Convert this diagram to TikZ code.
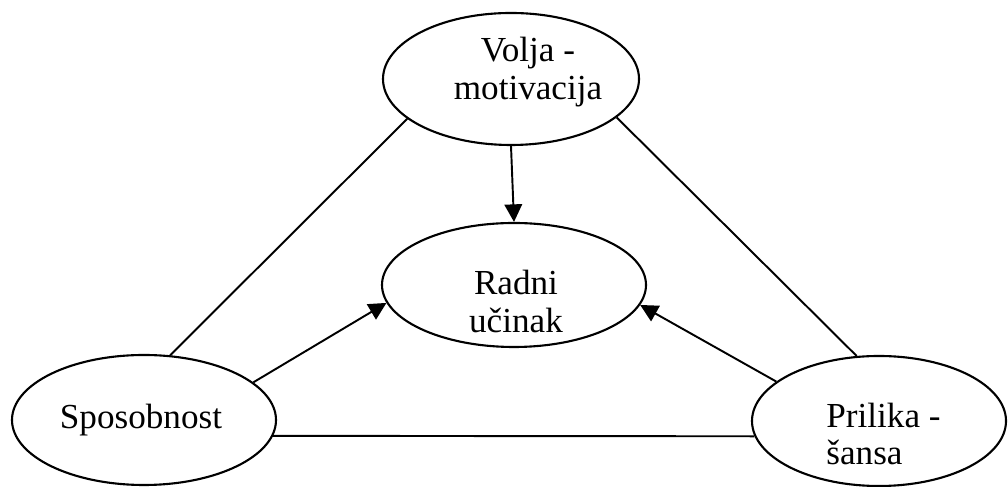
\documentclass[tikz,border=0pt]{standalone}
\usepackage{fontspec}
\setmainfont{Liberation Serif}
\usetikzlibrary{shapes.geometric,arrows.meta}
\tikzset{
  oval/.style={draw, ellipse, line width=1.2pt, inner sep=0pt},
  lbl/.style={font=\fontsize{20}{21.5}\selectfont, inner sep=0pt},
  veza/.style={line width=1.1pt},
  strelica/.style={line width=1.1pt, -{Triangle[length=10pt,width=10pt]}}
}
\begin{document}
\begin{tikzpicture}
        \useasboundingbox (0,0) rectangle (20.16,9.74);
        \node[oval, minimum width=5.12cm, minimum height=2.64cm] (volja) at (10.22,8.16) {};
        \node[oval, minimum width=5.28cm, minimum height=2.48cm] (ucinak) at (10.28,4.04) {};
        \node[oval, minimum width=5.28cm, minimum height=2.6cm] (sposobnost) at (2.88,1.34) {};
        \node[oval, minimum width=5.08cm, minimum height=2.6cm] (prilika) at (17.58,1.32) {};
        % tekst u elipsama
        \node[lbl, align=center] (tvolja) at ([xshift=0.34cm,yshift=0.14cm]volja) {Volja -\\motivacija};
        \node[lbl, align=center] (tucinak) at ([xshift=0.04cm,yshift=-0.33cm]ucinak) {Radni\\učinak};
        \node[lbl] (tsposobnost) at ([xshift=-0.06cm]sposobnost) {Sposobnost};
        \node[lbl, align=left] (tprilika) at ([xshift=0.09cm,yshift=-0.26cm]prilika) {Prilika -\\šansa};
        % trokut
        \draw[veza] (volja.201) -- (sposobnost.68);
        \draw[veza] (volja.340) -- (prilika.109);
        \draw[veza] (sposobnost.353) -- (prilika.187);
        % strelice
        \draw[strelica] (volja.south) -- (ucinak.north);
        \draw[strelica] (sposobnost.19) -- (ucinak.188);
        \draw[strelica] (prilika.159) -- (ucinak.351);
      \end{tikzpicture}
\end{document}
